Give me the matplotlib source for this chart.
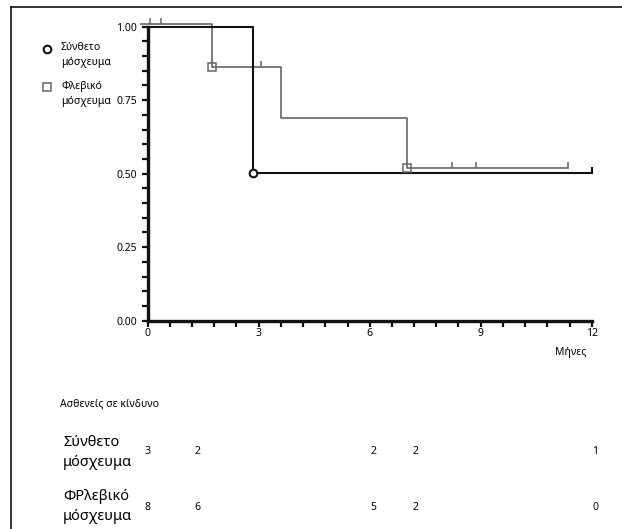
import numpy as np
import matplotlib
matplotlib.use('Agg')
import matplotlib.pyplot as plt
from matplotlib.ticker import MultipleLocator
from matplotlib.lines import Line2D
import matplotlib.transforms as mtransforms

plt.rcParams['font.family'] = ['Noto Sans', 'DejaVu Sans']

# Σύνθετο μόσχευμα (composite graft)
comp_t = [0.0, 2.85, 12.0]
comp_s = [1.0, 0.502, 0.502]
comp_event_t = [2.85]
comp_event_s = [0.502]
comp_cens_t = [12.0]
comp_cens_s = [0.502]

# Φλεβικό μόσχευμα (venous graft)
ven_t = [-0.18, 1.74, 3.6, 7.0, 11.36]
ven_s = [1.009, 0.864, 0.69, 0.519, 0.519]
ven_event_t = [1.74, 7.0]
ven_event_s = [0.864, 0.519]
ven_cens_t = [0.06, 0.35, 3.06, 8.22, 8.87, 11.36]
ven_cens_s = [1.009, 1.009, 0.864, 0.519, 0.519, 0.519]

# numbers at risk
risk_x = [0.0, 1.35, 6.1, 7.25, 12.1]
comp_risk = [3, 2, 2, 2, 1]
ven_risk = [8, 6, 5, 2, 0]

W, H = 622, 529
fig = plt.figure(figsize=(W/100, H/100), dpi=100)
ax = fig.add_axes([147.7/W, 1-320.7/H, 444/W, 294/H])

black = '#111111'
gray = '#666666'

ax.step(ven_t, ven_s, where='post', color=gray, lw=1.2, clip_on=False, zorder=3)
ax.plot(ven_cens_t, ven_cens_s, ls='none', marker=2, ms=4, mew=1.1, color=gray, clip_on=False, zorder=3)
ax.plot(ven_event_t, ven_event_s, ls='none', marker='s', ms=5.5, mew=1.1, mfc='none', mec=gray, clip_on=False, zorder=5)

ax.step(comp_t, comp_s, where='post', color=black, lw=1.5, clip_on=False, zorder=4)
ax.plot(comp_cens_t, comp_cens_s, ls='none', marker=2, ms=4, mew=1.5, color=black, clip_on=False, zorder=4)
ax.plot(comp_event_t, comp_event_s, ls='none', marker='o', ms=5.5, mew=1.5, mfc='white', mec=black, clip_on=False, zorder=6)

ax.set_xlim(0, 12)
ax.set_ylim(0, 1)
ax.spines['top'].set_visible(False)
ax.spines['right'].set_visible(False)
for s in ['left', 'bottom']:
    ax.spines[s].set_linewidth(2.4)
    ax.spines[s].set_color(black)

ax.xaxis.set_major_locator(MultipleLocator(3))
ax.xaxis.set_minor_locator(MultipleLocator(0.6))
ax.yaxis.set_major_locator(MultipleLocator(0.25))
ax.yaxis.set_minor_locator(MultipleLocator(0.05))
ax.yaxis.set_major_formatter(plt.FormatStrFormatter('%.2f'))
ax.tick_params(which='both', direction='out', length=4.5, width=1.6, color=black)
ax.tick_params(axis='y', which='major', labelsize=7.5, pad=3)
ax.tick_params(axis='x', which='major', labelsize=7.5, pad=1)

ax.text(571/W, 1-353/H, 'Μήνες', transform=fig.transFigure, fontsize=7.5, ha='center', va='center')

# legend
fig.add_artist(Line2D([46.7/W], [1-49/H], marker='o', ms=5.5, mew=1.5, mfc='white', mec=black, ls='none'))
fig.add_artist(Line2D([46.7/W], [1-87/H], marker='s', ms=6, mew=1.1, mfc='white', mec=gray, ls='none'))
fig.text(61/W, 1-48/H, 'Σύνθετο', fontsize=7.5, va='center')
fig.text(61/W, 1-63/H, 'μόσχευμα', fontsize=7.5, va='center')
fig.text(61/W, 1-87/H, 'Φλεβικό', fontsize=7.5, va='center')
fig.text(61/W, 1-101.5/H, 'μόσχευμα', fontsize=7.5, va='center')

# risk table
fig.text(60/W, 1-404/H, 'Ασθενείς σε κίνδυνο', fontsize=7.5, va='center')
fig.text(63/W, 1-442/H, 'Σύνθετο', fontsize=10.5, va='center')
fig.text(63/W, 1-463/H, 'μόσχευμα', fontsize=10.5, va='center')
fig.text(63/W, 1-497/H, 'ΦΡλεβικό', fontsize=10.5, va='center')
fig.text(63/W, 1-517/H, 'μόσχευμα', fontsize=10.5, va='center')
trans = mtransforms.blended_transform_factory(ax.transData, fig.transFigure)
for x, a, b in zip(risk_x, comp_risk, ven_risk):
    fig.text(x, 1-452/H, str(a), transform=trans, fontsize=7.5, ha='center', va='center')
    fig.text(x, 1-507/H, str(b), transform=trans, fontsize=7.5, ha='center', va='center')

# frame lines (top and left only)
fig.add_artist(Line2D([11/W, 1], [1-7/H, 1-7/H], color=black, lw=1.2))
fig.add_artist(Line2D([11/W, 11/W], [0, 1-7/H], color=black, lw=1.2))

fig.savefig('out.png', dpi=100)
